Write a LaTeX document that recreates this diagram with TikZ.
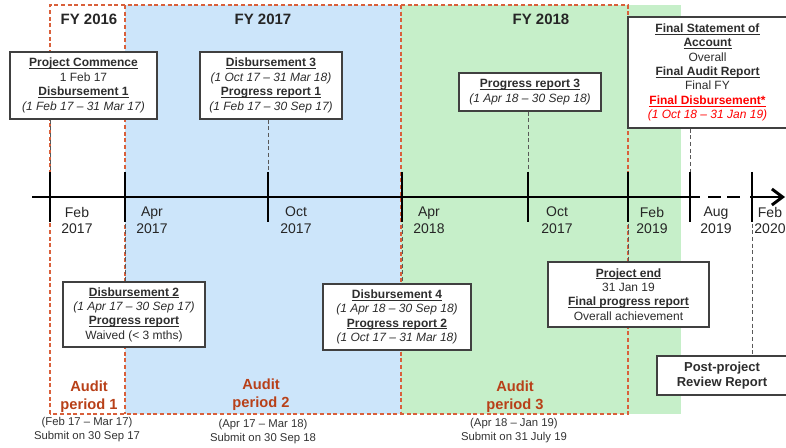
\documentclass[tikz,border=0pt]{standalone}
\usepackage{fontspec}
\setmainfont{Liberation Sans}
\usepackage{xcolor}
\usepackage{tikz}
\usetikzlibrary{arrows.meta,calc}

\definecolor{fyblue}{RGB}{204,229,250}
\definecolor{fygreen}{RGB}{198,239,201}
\definecolor{auditred}{RGB}{217,96,59}
\definecolor{audittext}{RGB}{184,64,24}
\definecolor{boxtext}{RGB}{45,45,45}

% bold heading with a close underline
\newcommand\hd[1]{\setbox0\hbox{\textbf{#1}}\rlap{\rule[-1.4pt]{\wd0}{0.55pt}}\box0}

\begin{document}
\begin{tikzpicture}[x=0.75pt,y=-0.75pt,
    box/.style={draw=black!75,line width=0.9pt,fill=white,align=center,inner sep=1pt,
      text=boxtext,font=\fontsize{9}{10.8}\selectfont},
    link/.style={black!65,line width=0.75pt,dash pattern=on 3pt off 2pt},
    auditline/.style={auditred,line width=0.8pt,dash pattern=on 3pt off 2pt},
    axisline/.style={line width=2.2pt},
    fylab/.style={inner sep=0pt,font=\fontsize{11.25}{13}\selectfont\bfseries,text=black!85},
    monthlab/.style={align=center,inner sep=0pt,font=\fontsize{10.5}{12.75}\selectfont,text=black!85},
    auditlab/.style={align=center,inner sep=0pt,font=\fontsize{11}{13.5}\selectfont\bfseries,text=audittext},
    submitlab/.style={align=center,inner sep=0pt,font=\fontsize{8.5}{10.5}\selectfont,text=black!80}]
    \useasboundingbox (0,0) rectangle (786,448);

    % --- financial years (background)
    \fill[fyblue]  (125,5) rectangle (401,414);
    \fill[fygreen] (401,5) rectangle (681,414);

    % --- audit periods
    \draw[auditline] (50,414) -- (50,5) -- (628,5) -- (628,414) -- cycle;
    \foreach \x in {125,401}{\draw[auditline] (\x,5) -- (\x,414);}

    \node[fylab] (fy16) at (89,19)  {FY 2016};
    \node[fylab] (fy17) at (263,19) {FY 2017};
    \node[fylab] (fy18) at (541,19) {FY 2018};

    % --- tick positions
    \foreach \n/\x in {1/50,2/125,3/268,4/402,5/528,6/628,7/690,8/752}{\coordinate (t\n) at (\x,197);}

    % --- boxes
    \node[box,minimum width=110.25pt,minimum height=50.25pt] (pc) at (83.5,85.5)
      {\hd{Project Commence}\\1 Feb 17\\\hd{Disbursement 1}\\\textit{(1 Feb 17 – 31 Mar 17)}};
    \node[box,minimum width=106.5pt,minimum height=50.25pt] (d3) at (271,85.5)
      {\hd{Disbursement 3}\\\textit{(1 Oct 17 – 31 Mar 18)}\\\hd{Progress report 1}\\\textit{(1 Feb 17 – 30 Sep 17)}};
    \node[box,minimum width=106.5pt,minimum height=28.5pt] (pr3) at (530,92)
      {\hd{Progress report 3}\\\textit{(1 Apr 18 – 30 Sep 18)}};
    \node[box,minimum width=119.25pt,minimum height=83.25pt] (fin) at (707.5,72.5)
      {\hd{Final Statement of}\\\hd{Account}\\Overall\\\hd{Final Audit Report}\\Final FY\\
       \textcolor{red}{\hd{Final Disbursement*}}\\\textcolor{red}{\textit{(1 Oct 18 – 31 Jan 19)}}};
    \node[box,minimum width=106.5pt,minimum height=48.75pt] (d2) at (134,314.5)
      {\hd{Disbursement 2}\\\textit{(1 Apr 17 – 30 Sep 17)}\\\hd{Progress report}\\Waived (< 3 mths)};
    \node[box,minimum width=111pt,minimum height=49.5pt] (d4) at (397,317)
      {\hd{Disbursement 4}\\\textit{(1 Apr 18 – 30 Sep 18)}\\\hd{Progress report 2}\\\textit{(1 Oct 17 – 31 Mar 18)}};
    \node[box,minimum width=120.75pt,minimum height=48.75pt] (pe) at (628.5,294.5)
      {\hd{Project end}\\31 Jan 19\\\hd{Final progress report}\\Overall achievement};
    \node[box,minimum width=97.5pt,minimum height=29.25pt,font=\fontsize{9.75}{11.25}\selectfont\bfseries] (post) at (722,375.5)
      {Post-project\\Review Report};

    % --- dashed links box -> tick
    \foreach \t/\b in {t1/pc,t3/d3,t5/pr3,t7/fin}{\draw[link] (\t |- \b.south) -- (\t);}
    \foreach \t/\b in {t2/d2,t4/d4,t6/pe,t8/post}{\draw[link] (\t) -- (\t |- \b.north);}

    % --- time axis
    \draw[axisline] (32,197) -- (700,197);
    \draw[axisline,dash pattern=on 9.5pt off 5pt] (708,197) -- (740,197);
    \draw[axisline,-{Straight Barb[length=8pt,width=12pt]}] (750,197) -- (785,197);
    \foreach \n/\lx/\m/\yr in {1/77/Feb/2017,2/152/Apr/2017,3/296/Oct/2017,4/429/Apr/2018,
                              5/557/Oct/2017,6/652/Feb/2019,7/716/Aug/2019,8/770/Feb/2020}{
      \draw[axisline] ($(t\n)+(0,-25)$) -- ($(t\n)+(0,25)$);
      \node[monthlab] (m\n) at (\lx,220.5) {\m\\\yr};
    }

    % --- audit period labels
    \node[auditlab] (a1) at (89,397)  {Audit\\period 1};
    \node[auditlab] (a2) at (261,395) {Audit\\period 2};
    \node[auditlab] (a3) at (515,397) {Audit\\period 3};
    \node[submitlab] (s1) at (87,430)  {(Feb 17 – Mar 17)\\Submit on 30 Sep 17};
    \node[submitlab] (s2) at (263,432) {(Apr 17 – Mar 18)\\Submit on 30 Sep 18};
    \node[submitlab] (s3) at (514,431) {(Apr 18 – Jan 19)\\Submit on 31 July 19};
\end{tikzpicture}
\end{document}
